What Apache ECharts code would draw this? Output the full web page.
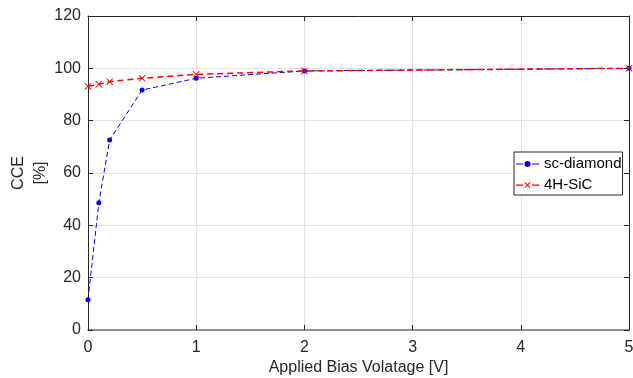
<!DOCTYPE html>
<html>
<head>
<meta charset="utf-8">
<script src="https://cdn.jsdelivr.net/npm/echarts@6/dist/echarts.min.js"></script>
<style>
  html, body { margin: 0; padding: 0; background: #fff; }
  #chart { width: 633px; height: 378px; }
</style>
</head>
<body>
<div id="chart"></div>
<script>
// Charge collection efficiency vs. applied bias
const voltage = [0, 0.1, 0.2, 0.5, 1, 2, 5];
const diamondCCE = [11.6, 48.6, 72.6, 91.7, 96.2, 99.0, 100];
const sicCCE = [93.1, 93.9, 94.9, 96.2, 97.7, 99.0, 100];
const xTicks = [0, 1, 2, 3, 4, 5];
const yTicks = [0, 20, 40, 60, 80, 100, 120];

const FONT = 'Liberation Sans, Arial, Helvetica, sans-serif';
const AXIS = '#262626';
const GRID = '#e3e3e3';

// cross marker and legend glyphs (dash - marker - dash)
const crossPath = 'path://M0,0.9L0.9,0L5,4.1L9.1,0L10,0.9L5.9,5L10,9.1L9.1,10L5,5.9L0.9,10L0,9.1L4.1,5Z';
const legendDot = 'path://M0,2.5h7v1h-7zM8.5,3a3,3 0 1,0 6,0a3,3 0 1,0 -6,0zM16,2.5h7v1h-7z';
const legendCross = 'path://M0,2.5h7v1.2h-7zM8.6,0.7L9.3,0L11.5,2.3L13.7,0L14.4,0.7L12.2,3L14.4,5.3L13.7,6L11.5,3.7L9.3,6L8.6,5.3L10.8,3ZM16,2.5h7v1.2h-7z';

const toPairs = ys => voltage.map((v, i) => [v, ys[i]]);

const chart = echarts.init(document.getElementById('chart'), null, { renderer: 'canvas' });

const xBase = {
  type: 'value', min: xTicks[0], max: xTicks[xTicks.length - 1], interval: 1,
  axisLine: { show: true, onZero: false, lineStyle: { color: AXIS, width: 1 } },
  axisTick: { show: true, inside: true, length: 5, lineStyle: { color: AXIS } },
  splitLine: { show: false }
};
const yBase = {
  type: 'value', min: yTicks[0], max: yTicks[yTicks.length - 1], interval: 20,
  axisLine: { show: true, onZero: false, lineStyle: { color: AXIS, width: 1 } },
  axisTick: { show: true, inside: true, length: 5, lineStyle: { color: AXIS } },
  splitLine: { show: false }
};

chart.setOption({
  animation: false,
  backgroundColor: '#fff',
  grid: { left: 88, right: 4, top: 16, bottom: 48, containLabel: false, outerBoundsMode: 'none' },
  legend: {
    left: 514, top: 152,
    orient: 'vertical',
    backgroundColor: '#fff',
    borderColor: AXIS, borderWidth: 1, borderRadius: 0,
    padding: [2, 1, 0, 2],
    itemGap: 1,
    itemWidth: 23, itemHeight: 7,
    textStyle: { fontFamily: FONT, fontSize: 15, lineHeight: 20, color: '#000' },
    data: [
      { name: 'sc-diamond', icon: legendDot },
      { name: '4H-SiC', icon: legendCross }
    ]
  },
  xAxis: [
    Object.assign({}, xBase, {
      position: 'bottom',
      name: 'Applied Bias Volatage [V]', nameLocation: 'middle', nameGap: 30,
      nameMoveOverlap: false,
      nameTextStyle: { fontFamily: FONT, fontSize: 16, color: AXIS },
      axisLine: { show: true, onZero: false, lineStyle: { color: '#707070', width: 1.6 } },
      axisLabel: { fontFamily: FONT, fontSize: 16, color: AXIS, margin: 10 },
      splitLine: { show: true, lineStyle: { color: GRID, width: 1 } }
    }),
    Object.assign({}, xBase, { position: 'top', axisLabel: { show: false } })
  ],
  yAxis: [
    Object.assign({}, yBase, {
      position: 'left',
      name: 'CCE\n[%]', nameLocation: 'middle', nameGap: 36, nameRotate: 90,
      nameMoveOverlap: false,
      nameTextStyle: { fontFamily: FONT, fontSize: 16, color: AXIS, lineHeight: 22 },
      axisLabel: { fontFamily: FONT, fontSize: 16, color: AXIS, margin: 7 },
      splitLine: { show: true, lineStyle: { color: GRID, width: 1 } }
    }),
    Object.assign({}, yBase, { position: 'right', axisLabel: { show: false } })
  ],
  series: [
    {
      name: 'sc-diamond', type: 'line', xAxisIndex: 0, yAxisIndex: 0,
      data: toPairs(diamondCCE),
      symbol: 'circle', symbolSize: 5,
      itemStyle: { color: '#0000ff' },
      lineStyle: { color: '#0000ff', width: 1, type: [5, 3] },
      z: 3
    },
    {
      name: '4H-SiC', type: 'line', xAxisIndex: 0, yAxisIndex: 0,
      data: toPairs(sicCCE),
      symbol: crossPath, symbolSize: 7,
      itemStyle: { color: '#ff0000' },
      lineStyle: { color: '#ff0000', width: 1.5, type: [6, 4] },
      z: 4
    }
  ]
});
</script>
</body>
</html>
